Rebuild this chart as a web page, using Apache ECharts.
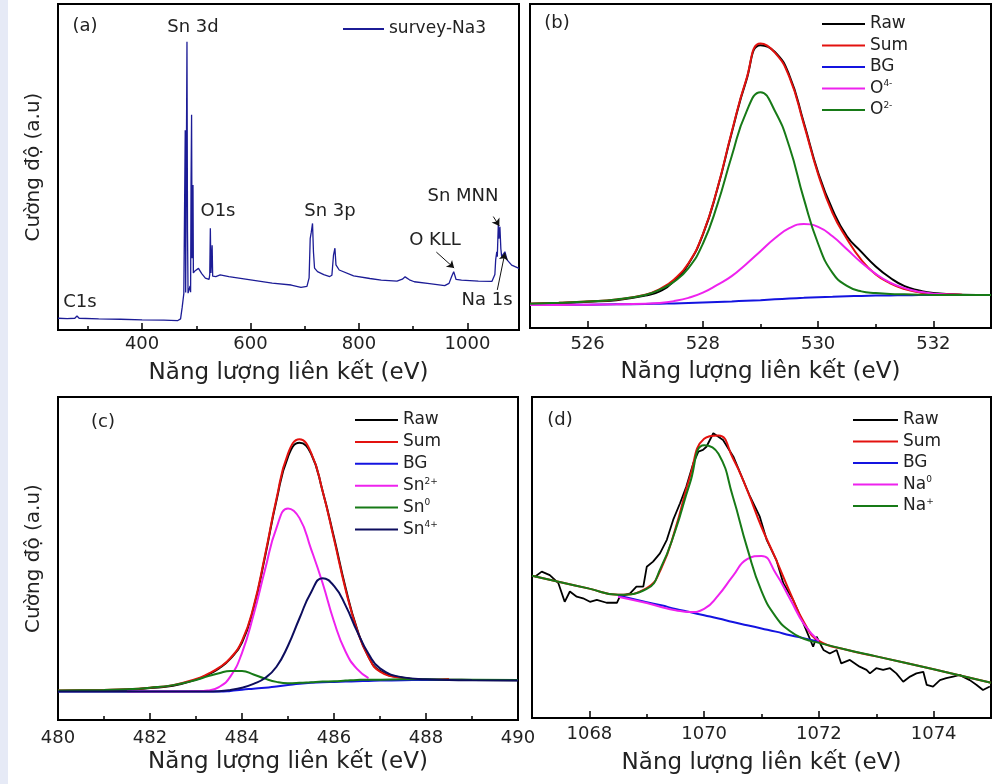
<!DOCTYPE html>
<html>
<head>
<meta charset="utf-8">
<title>XPS Na3</title>
<script src="https://cdn.jsdelivr.net/npm/echarts@6/dist/echarts.min.js"></script>
<style>
html, body { margin: 0; padding: 0; background: #fff; }
#strip { position: absolute; left: 0; top: 0; width: 8px; height: 784px; background: #e6eaf6; }
#chart { position: absolute; left: 0; top: 0; width: 1000px; height: 784px; }
</style>
</head>
<body>
<div id="strip"></div>
<div id="chart"></div>
<script>
// (a) survey spectrum
var surveyE = [245, 262, 276, 280, 284, 320, 360, 400, 440, 466, 471, 474, 477, 478.8, 479.6, 480.4, 481.8, 482.8, 483.8, 484.8,
  486.5, 488.5, 489.5, 490.3, 491.3, 492.2, 493.2, 493.9, 494.6, 498, 504, 510, 516.7, 523.5, 524.8, 525.9, 527, 528.5, 529.2, 530.2,
  536, 544, 560, 600, 640, 675, 693, 704, 708, 710, 712, 714.3, 716, 718, 723.5, 735, 746, 750, 753, 755.6,
  757.5, 763.5, 790, 820, 841, 870, 880, 885, 893, 902, 930, 958, 966, 971, 974.6, 979, 989, 1020, 1045, 1048,
  1050.5, 1052, 1054, 1055, 1056.8, 1058, 1059.8, 1061.5, 1063, 1066, 1069, 1073, 1081.5, 1095];
var surveyI = [3.6, 3.5, 3.6, 4.3, 3.6, 3.4, 3.3, 3.1, 3.0, 2.9, 3.4, 7.0, 11.2, 11.6, 61.3, 11.5, 11.2, 88.4, 30.0, 11.3,
  11.1, 13.5, 11.6, 45.0, 66.0, 22.0, 24.0, 44.5, 17.5, 18.2, 18.9, 17.3, 15.9, 15.5, 17.0, 31.2, 17.5, 17.0, 26.0, 16.5,
  16.4, 16.9, 16.4, 15.4, 14.4, 13.8, 13.1, 13.4, 16.0, 28.0, 30.0, 32.7, 24.0, 19.0, 17.9, 17.0, 16.4, 16.8, 23.0, 25.1,
  20.0, 18.4, 16.6, 15.8, 15.3, 15.0, 15.6, 16.3, 15.4, 14.8, 14.2, 13.6, 14.3, 16.5, 17.9, 15.5, 15.3, 15.0, 14.9, 15.3,
  17.0, 21.5, 24.0, 22.5, 32.2, 28.0, 31.7, 25.0, 22.5, 23.0, 24.0, 21.5, 19.9, 18.9];
// peak annotation arrows [fromE, fromI, toE, toI]
var surveyArrows = [[942.6, 23.9, 975.4, 19.0], [1047.6, 34.8, 1058.7, 31.9], [1055, 12.3, 1069, 23.6]];

// (b) O 1s
var o1sE = [525, 525.5, 526, 526.5, 527, 527.25, 527.5, 527.75, 528, 528.25, 528.5, 528.75, 529, 529.25,
  529.5, 529.75, 530, 530.25, 530.5, 530.75, 531, 531.25, 531.5, 531.75, 532, 532.5, 533];
var o1sRaw = [7.5, 7.7, 8.1, 8.6, 10.0, 11.3, 14.5, 19.8, 28.8, 42.8, 60.2, 76.2, 87.3, 85.2,
  78.0, 63.5, 48.0, 36.5, 28.3, 23.5, 19.0, 15.5, 12.9, 11.6, 10.8, 10.3, 10.2];
var o1sSum = [7.5, 7.8, 8.2, 8.8, 10.3, 12.0, 15.0, 20.0, 29.0, 43.0, 60.5, 76.5, 87.8, 85.0,
  77.5, 63.0, 47.5, 35.5, 27.5, 21.0, 16.5, 13.8, 12.0, 11.0, 10.5, 10.3, 10.2];
var o1sBG = [7.1, 7.15, 7.2, 7.3, 7.4, 7.5, 7.6, 7.75, 7.9, 8.05, 8.2, 8.4, 8.6, 8.85,
  9.1, 9.3, 9.5, 9.65, 9.8, 9.9, 10.0, 10.05, 10.1, 10.15, 10.2, 10.2, 10.2];
var o1sO4 = [7.1, 7.1, 7.2, 7.3, 7.5, 7.7, 8.3, 9.3, 10.9, 13.3, 16.0, 19.7, 23.7, 27.7,
  30.8, 32.1, 31.2, 28.3, 24.3, 20.2, 16.7, 14.0, 12.3, 11.2, 10.6, 10.2, null];
var o1sO2 = [7.5, 7.8, 8.2, 8.8, 10.2, 11.8, 14.3, 18.5, 26.0, 38.0, 53.0, 66.5, 72.8, 67.0,
  56.0, 40.0, 26.0, 17.0, 13.0, 11.3, 10.8, 10.5, 10.4, 10.3, 10.2, 10.2, 10.2];

// (c) Sn 3d5/2
var snE = [480, 481, 481.5, 482, 482.5, 483, 483.25, 483.5, 483.75, 484, 484.25, 484.5, 484.75, 485,
  485.25, 485.5, 485.75, 486, 486.25, 486.5, 486.75, 487, 487.5, 488, 488.5, 489, 490];
var snRaw = [9.0, 9.2, 9.4, 9.9, 10.6, 12.5, 14.0, 16.0, 19.0, 24.0, 34.5, 50.5, 68.0, 81.5,
  85.8, 82.5, 71.0, 56.5, 41.0, 28.2, 19.6, 15.2, 13.1, 12.5, 12.5, 12.4, 12.3];
var snSum = [9.1, 9.3, 9.5, 10.0, 10.8, 12.7, 14.2, 16.2, 19.2, 24.5, 35.0, 51.0, 68.5, 82.5,
  86.9, 82.8, 71.0, 56.0, 40.5, 28.0, 19.5, 15.0, 13.0, 12.4, 12.7, null, null];
var snBG = [8.8, 8.8, 8.8, 8.8, 8.8, 8.8, 8.8, 8.8, 9.0, 9.4, 9.7, 10.0, 10.4, 10.8,
  11.2, 11.5, 11.7, 11.8, 11.9, 12.0, 12.1, 12.2, 12.3, 12.4, 12.4, 12.4, 12.4];
var snSn2 = [null, null, 8.8, 8.8, 8.8, 8.9, 9.1, 10.2, 13.5, 20.8, 32.5, 46.5, 59.5, 65.5,
  62.5, 53.0, 42.5, 30.5, 21.2, 15.8, 13.0, null, null, null, null, null, null];
var snSn0 = [9.1, 9.3, 9.5, 10.0, 10.8, 12.4, 13.5, 14.5, 15.2, 15.2, 14.1, 12.8, 11.8, 11.4,
  11.5, 11.7, 11.9, 12.0, 12.2, 12.4, 12.5, 12.5, 12.6, 12.6, 12.5, 12.5, 12.4];
var snSn4 = [8.8, 8.8, 8.8, 8.8, 8.8, 8.8, 8.8, 8.9, 9.3, 10.0, 11.2, 13.0, 16.5, 23.0,
  31.5, 39.5, 43.9, 41.5, 35.5, 27.5, 20.5, 16.0, 13.2, 12.6, 12.4, 12.3, 12.2];

// (d) Na 1s
var naE = [1067, 1067.5, 1068, 1068.5, 1069, 1069.25, 1069.5, 1069.75, 1070, 1070.25, 1070.5,
  1070.75, 1071, 1071.25, 1071.5, 1071.75, 1072, 1072.5, 1073, 1074, 1075];
var naSum = [44.3, 42.3, 40.3, 38.4, 40.5, 46.5, 59.0, 75.0, 87.0, 88.0, 81.0,
  71.0, 59.5, 49.5, 39.0, 29.5, 24.0, 21.2, 19.2, 15.2, 11.0];
var naBG = [null, null, null, 38.2, 36.1, 35.1, 34.0, 33.0, 32.0, 31.0, 29.9,
  28.9, 27.9, 26.9, 25.8, 24.8, 23.8, null, null, null, null];
var naNa0 = [null, null, null, 37.8, 35.8, 34.6, 33.6, 33.0, 34.0, 38.3, 44.2,
  49.5, 50.5, 45.0, 37.0, 29.0, 24.0, null, null, null, null];
var naNa1 = [44.3, 42.3, 40.3, 38.4, 40.2, 47.0, 58.5, 73.0, 85.0, 82.3, 69.0,
  53.0, 39.5, 31.5, 27.0, 24.6, 23.4, 21.2, 19.2, 15.2, 11.0];
var naRawE = [1067.05, 1067.17, 1067.31, 1067.46, 1067.57, 1067.66, 1067.78, 1067.89, 1068.01, 1068.13,
  1068.3, 1068.48, 1068.53, 1068.71, 1068.82, 1068.94, 1069.0, 1069.11, 1069.23, 1069.35,
  1069.46, 1069.58, 1069.69, 1069.81, 1069.9, 1069.98, 1070.04, 1070.16, 1070.33, 1070.51,
  1070.68, 1070.8, 1070.97, 1071.09, 1071.26, 1071.38, 1071.55, 1071.73, 1071.9, 1071.96,
  1072.08, 1072.19, 1072.31, 1072.39, 1072.54, 1072.71, 1072.83, 1072.89, 1073.0, 1073.12,
  1073.24, 1073.35, 1073.47, 1073.59, 1073.7, 1073.82, 1073.88, 1073.99, 1074.11, 1074.22,
  1074.34, 1074.46, 1074.51, 1074.63, 1074.75, 1074.86, 1074.98];
var naRaw = [44.0, 45.6, 44.5, 42.0, 36.2, 39.4, 37.8, 37.3, 36.2, 36.8,
  35.9, 35.9, 37.8, 38.8, 40.9, 40.9, 47.1, 48.7, 51.3, 55.5,
  61.7, 66.9, 72.1, 79.3, 83.0, 83.5, 84.5, 88.7, 86.6, 81.4,
  74.1, 69.0, 62.7, 55.5, 49.2, 42.0, 36.8, 29.5, 22.2, 25.3,
  21.2, 20.1, 21.2, 17.0, 18.1, 16.0, 15.0, 13.9, 15.5, 15.0,
  15.5, 13.9, 11.3, 12.9, 13.9, 14.4, 10.3, 9.8, 11.8, 12.4,
  12.9, 13.4, 12.9, 11.8, 10.3, 8.7, 9.8];

// axis ranges and tick labels
var xRanges = [[245, 1095], [525, 533], [480, 490], [1067, 1075]];
var majorTicks = [
  [400, 600, 800, 1000],
  [526, 528, 530, 532],
  [480, 482, 484, 486, 488, 490],
  [1068, 1070, 1072, 1074]
];
var minorTicks = [
  [300, 500, 700, 900],
  [527, 529, 531],
  [481, 483, 485, 487, 489],
  [1069, 1071, 1073]
];

var FONT = 'DejaVu Sans';
var TEXT = '#222';
var X_NAME = 'Năng lượng liên kết (eV)';
var Y_NAME = 'Cường độ (a.u)';

var grids = [
  { left: 58, top: 4, width: 461, height: 326 },
  { left: 530, top: 4, width: 461, height: 324 },
  { left: 58, top: 397, width: 460, height: 323 },
  { left: 532, top: 397, width: 459, height: 321 }
];
var labelMargins = [5, 7, 9, 7];
var nameGaps = [32, 33, 31, 34];

var colors = {
  Raw: '#000000',
  Sum: '#e3120f',
  BG: '#1414e0',
  magenta: '#ee22ee',
  green: '#177a17',
  navy: '#0d0d5e',
  survey: '#1c1c96'
};

var supLabels = {
  'O4-': ['O', '4-'], 'O2-': ['O', '2-'],
  'Sn2+': ['Sn', '2+'], 'Sn0': ['Sn', '0'], 'Sn4+': ['Sn', '4+'],
  'Na0': ['Na', '0'], 'Na+': ['Na', '+']
};

function pairs(xs, ys) {
  return xs.map(function(x, i) { return [x, ys[i]]; });
}

function buildXAxes() {
  var axes = [];
  grids.forEach(function(g, i) {
    axes.push({
      type: 'value',
      gridIndex: i,
      min: xRanges[i][0],
      max: xRanges[i][1],
      position: 'bottom',
      axisLine: { show: true, lineStyle: { color: '#000', width: 2 } },
      axisTick: { show: true, inside: true, length: 7, customValues: majorTicks[i], lineStyle: { color: '#000', width: 1.5 } },
      axisLabel: {
        show: true,
        customValues: majorTicks[i],
        margin: labelMargins[i],
        color: TEXT,
        fontSize: 18,
        fontFamily: FONT,
        formatter: function(v) { return String(v); }
      },
      splitLine: { show: false },
      name: X_NAME,
      nameLocation: 'middle',
      nameGap: nameGaps[i],
      nameTextStyle: { fontSize: 23, fontFamily: FONT, color: TEXT }
    });
    axes.push({
      type: 'value',
      gridIndex: i,
      min: xRanges[i][0],
      max: xRanges[i][1],
      position: 'bottom',
      axisLine: { show: false },
      axisTick: { show: true, inside: true, length: 4, customValues: minorTicks[i], lineStyle: { color: '#000', width: 1.5 } },
      axisLabel: { show: false },
      splitLine: { show: false }
    });
  });
  return axes;
}

function buildYAxes() {
  return grids.map(function(g, i) {
    var ax = {
      type: 'value',
      gridIndex: i,
      min: 0,
      max: 100,
      axisLine: { show: false },
      axisTick: { show: false },
      axisLabel: { show: false },
      splitLine: { show: false }
    };
    if (i === 0 || i === 2) {
      ax.name = Y_NAME;
      ax.nameLocation = 'middle';
      ax.nameGap = 14;
      ax.nameTextStyle = { fontSize: 20, fontFamily: FONT, color: TEXT };
    }
    return ax;
  });
}

function line(name, panel, xs, ys, color, width, smooth) {
  return {
    name: name,
    type: 'line',
    xAxisIndex: panel * 2,
    yAxisIndex: panel,
    data: pairs(xs, ys),
    symbol: 'none',
    smooth: smooth,
    connectNulls: false,
    lineStyle: { color: color, width: width },
    itemStyle: { color: color }
  };
}

function legendFor(names, left, top, itemWidth, gap) {
  return {
    data: names,
    orient: 'vertical',
    left: left,
    top: top,
    padding: 0,
    icon: 'rect',
    itemWidth: itemWidth,
    itemHeight: 2,
    itemGap: gap,
    selectedMode: false,
    formatter: function(name) {
      var s = supLabels[name];
      return s ? '{b|' + s[0] + '}{s|' + s[1] + '}' : name;
    },
    textStyle: {
      fontSize: 17,
      fontFamily: FONT,
      color: TEXT,
      lineHeight: 18,
      rich: {
        b: { fontSize: 17, fontFamily: FONT, color: TEXT, lineHeight: 18 },
        s: { fontSize: 9, fontFamily: FONT, color: TEXT, lineHeight: 10, verticalAlign: 'top' }
      }
    }
  };
}

function label(text, x, y, size) {
  return {
    type: 'text',
    x: x,
    y: y,
    silent: true,
    style: { text: text, fontSize: size || 18, fontFamily: FONT, fill: TEXT, align: 'center', verticalAlign: 'middle' }
  };
}

function initChart() {
  var chart = echarts.init(document.getElementById('chart'), null, { renderer: 'canvas' });

  var survey = line('survey-Na3', 0, surveyE, surveyI, colors.survey, 1.3, false);
  survey.markLine = {
    silent: true,
    symbol: ['none', 'arrow'],
    symbolSize: 7,
    label: { show: false },
    lineStyle: { color: '#111', width: 1, type: 'solid' },
    emphasis: { disabled: true },
    data: surveyArrows.map(function(a) {
      return [{ coord: [a[0], a[1]] }, { coord: [a[2], a[3]] }];
    })
  };

  var series = [
    survey,
    line('Raw', 1, o1sE, o1sRaw, colors.Raw, 2, true),
    line('Sum', 1, o1sE, o1sSum, colors.Sum, 2, true),
    line('BG', 1, o1sE, o1sBG, colors.BG, 2, true),
    line('O4-', 1, o1sE, o1sO4, colors.magenta, 2, true),
    line('O2-', 1, o1sE, o1sO2, colors.green, 2, true),

    line('Raw', 2, snE, snRaw, colors.Raw, 2, true),
    line('Sum', 2, snE, snSum, colors.Sum, 2, true),
    line('BG', 2, snE, snBG, colors.BG, 2, true),
    line('Sn2+', 2, snE, snSn2, colors.magenta, 2, true),
    line('Sn0', 2, snE, snSn0, colors.green, 2, true),
    line('Sn4+', 2, snE, snSn4, colors.navy, 2, true),

    line('Raw', 3, naRawE, naRaw, colors.Raw, 1.8, false),
    line('Sum', 3, naE, naSum, colors.Sum, 2, true),
    line('BG', 3, naE, naBG, colors.BG, 2, true),
    line('Na0', 3, naE, naNa0, colors.magenta, 2, true),
    line('Na+', 3, naE, naNa1, colors.green, 2, true)
  ];

  chart.setOption({
    animation: false,
    backgroundColor: 'transparent',
    grid: grids.map(function(g) {
      return {
        left: g.left, top: g.top, width: g.width, height: g.height,
        show: true, borderColor: '#000', borderWidth: 2,
        containLabel: false, outerBoundsMode: 'none'
      };
    }),
    xAxis: buildXAxes(),
    yAxis: buildYAxes(),
    legend: [
      legendFor(['survey-Na3'], 343, 20, 41, 4),
      legendFor(['Raw', 'Sum', 'BG', 'O4-', 'O2-'], 822, 15, 43, 3.5),
      legendFor(['Raw', 'Sum', 'BG', 'Sn2+', 'Sn0', 'Sn4+'], 355, 411, 43, 3.9),
      legendFor(['Raw', 'Sum', 'BG', 'Na0', 'Na+'], 853, 411, 45, 3.5)
    ],
    graphic: [
      label('(a)', 85, 26),
      label('(b)', 557, 23),
      label('(c)', 103, 422),
      label('(d)', 560, 420),
      label('Sn 3d', 193, 27),
      label('O1s', 218, 211),
      label('Sn 3p', 330, 211),
      label('O KLL', 435, 240),
      label('Sn MNN', 463, 196),
      label('Na 1s', 487, 300),
      label('C1s', 80, 302)
    ],
    series: series
  });
  return chart;
}

initChart();
</script>
</body>
</html>
